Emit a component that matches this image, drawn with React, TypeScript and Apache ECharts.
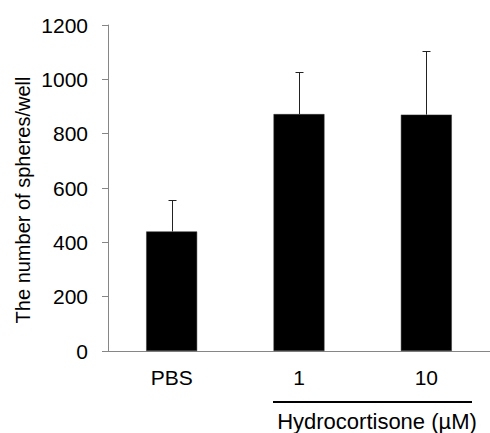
import React, { useEffect, useRef } from "react";
import * as echarts from "echarts";

const categories = ["PBS", "1", "10"];
const means = [440, 872, 870];
const errorTops = [556, 1026, 1104];
const yTicks = { min: 0, max: 1200, interval: 200 };
const yAxisTitle = "The number of spheres/well";
const groupLabel = "Hydrocortisone (µM)";

export default function App() {
  const ref = useRef<HTMLDivElement>(null);
  useEffect(() => {
    const chart = echarts.init(ref.current!, null, { renderer: "svg" });
    const font = "'Liberation Sans', Arial, sans-serif";
    chart.setOption({
      animation: false,
      backgroundColor: "#ffffff",
      grid: { left: 108, top: 25, width: 392, bottom: 82 },
      xAxis: {
        type: "category",
        data: categories,
        axisLine: { lineStyle: { color: "#868686", width: 1 } },
        axisTick: { show: false },
        axisLabel: { color: "#000", fontSize: 21, fontFamily: font, margin: 16 },
      },
      yAxis: {
        type: "value",
        min: yTicks.min,
        max: yTicks.max,
        interval: yTicks.interval,
        splitLine: { show: false },
        axisLine: { show: true, lineStyle: { color: "#868686", width: 1 } },
        axisTick: { show: true, length: 6, lineStyle: { color: "#868686" } },
        axisLabel: {
          color: "#000",
          fontSize: 21,
          fontFamily: font,
          margin: 20,
          formatter: (v: number) => String(v),
        },
      },
      series: [
        {
          type: "bar",
          data: means,
          barWidth: "40%",
          itemStyle: { color: "#000", borderColor: "#333", borderWidth: 0.5 },
          z: 2,
        },
        {
          type: "custom",
          data: categories.map((_, i) => [i, means[i], errorTops[i]]),
          z: 3,
          renderItem: (params: any, api: any) => {
            const x = api.value(0);
            const base = api.coord([x, api.value(1)]);
            const top = api.coord([x, api.value(2)]);
            const cx = Math.round(base[0]) + 0.5;
            const ty = Math.round(top[1]) + 0.5;
            const style = { stroke: "#222", lineWidth: 1 };
            return {
              type: "group",
              children: [
                { type: "line", shape: { x1: cx, y1: base[1], x2: cx, y2: ty }, style },
                { type: "line", shape: { x1: cx - 4, y1: ty, x2: cx + 4, y2: ty }, style },
              ],
            };
          },
        },
      ],
      graphic: [
        {
          type: "text",
          x: 23,
          y: 200,
          rotation: Math.PI / 2,
          style: {
            text: yAxisTitle,
            fontSize: 20,
            fontFamily: font,
            fill: "#000",
            align: "center",
            verticalAlign: "middle",
          },
        },
        {
          type: "line",
          shape: { x1: 273, y1: 402, x2: 472, y2: 402 },
          style: { stroke: "#000", lineWidth: 2 },
        },
        {
          type: "text",
          x: 377,
          y: 421,
          style: {
            text: groupLabel,
            fontSize: 22,
            fontFamily: font,
            fill: "#000",
            align: "center",
            verticalAlign: "middle",
          },
        },
      ],
    });
    return () => chart.dispose();
  }, []);
  return (
    <div
      ref={ref}
      style={{ position: "fixed", left: 0, top: 0, width: 490, height: 433, background: "#fff" }}
    />
  );
}
